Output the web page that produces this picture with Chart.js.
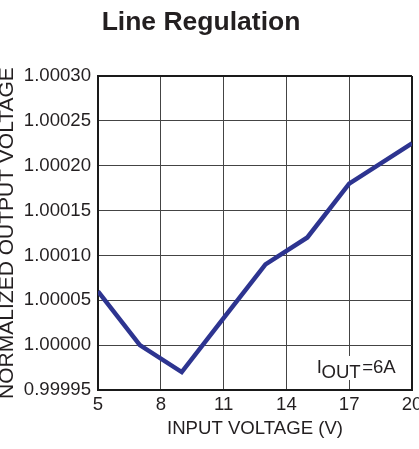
<!DOCTYPE html>
<html>
<head>
<meta charset="utf-8">
<script src="https://cdn.jsdelivr.net/npm/chart.js@4/dist/chart.umd.min.js"></script>
<style>
  html, body { margin: 0; padding: 0; background: #ffffff; }
  #c { display: block; }
</style>
</head>
<body>
<canvas id="c" width="419" height="449"></canvas>
<script>
// ---- data ----
const inputVoltage = [5, 7, 9, 11, 13, 15, 17, 20];
const normalizedOutput = [1.00006, 1.00000, 0.99997, 1.00003, 1.00009, 1.00012, 1.00018, 1.000225];
const xTickValues = [5, 8, 11, 14, 17, 20];
const yTickValues = [0.99995, 1.00000, 1.00005, 1.00010, 1.00015, 1.00020, 1.00025, 1.00030];
const chartTitle = 'Line Regulation';
const xAxisTitle = 'INPUT VOLTAGE (V)';
const yAxisTitle = 'NORMALIZED OUTPUT VOLTAGE';
const noteMain = 'I', noteSub = 'OUT', noteTail = '=6A';

const FONT = "'Liberation Sans', Arial, Helvetica, sans-serif";
const TEXT = '#231f20';
const FRAME = '#1a1a1a';
const GRID = '#444444';

const xMin = xTickValues[0], xMax = xTickValues[xTickValues.length - 1];
const yMin = yTickValues[0], yMax = yTickValues[yTickValues.length - 1];

const points = inputVoltage.map((x, i) => ({ x: x, y: normalizedOutput[i] }));

const annotations = {
  id: 'annotations',
  afterDraw(chart) {
    const ctx = chart.ctx;
    const xs = chart.scales.x, ys = chart.scales.y;
    ctx.save();
    // main title
    ctx.fillStyle = TEXT;
    ctx.font = 'bold 26.5px ' + FONT;
    ctx.textAlign = 'center';
    ctx.textBaseline = 'alphabetic';
    ctx.fillText(chartTitle, 201, 30);

    // condition note with subscript, anchored to data space
    const px = xs.getPixelForValue(15.45);
    const py = ys.getPixelForValue(0.999969);
    ctx.font = '18.6px ' + FONT;
    ctx.textAlign = 'left';
    const w1 = ctx.measureText(noteMain).width;
    const w2 = ctx.measureText(noteSub).width;
    const w3 = ctx.measureText(noteTail).width;
    ctx.fillStyle = '#ffffff';
    ctx.fillRect(px - 2, py - 17, w1 + w2 + w3 + 5, 24);
    ctx.fillStyle = TEXT;
    ctx.fillText(noteMain, px, py);
    ctx.fillText(noteSub, px + w1 - 0.5, py + 5);
    ctx.fillText(noteTail, px + w1 + w2 + 1, py);
    ctx.restore();
  }
};

const isEnd = (scaleMin, scaleMax) => (ctx) =>
  ctx.tick && (Math.abs(ctx.tick.value - scaleMax) < 1e-9 || Math.abs(ctx.tick.value - scaleMin) < 1e-9);

new Chart(document.getElementById('c'), {
  type: 'line',
  data: {
    datasets: [{
      data: points,
      borderColor: '#2d3490',
      borderWidth: 4.5,
      pointRadius: 0,
      fill: false,
      tension: 0,
      borderJoinStyle: 'miter'
    }]
  },
  options: {
    responsive: false,
    animation: false,
    devicePixelRatio: 1,
    layout: { padding: { top: 76, right: 7, bottom: 0, left: 0 } },
    plugins: {
      legend: { display: false },
      title: { display: false },
      tooltip: { enabled: false }
    },
    scales: {
      x: {
        type: 'linear',
        min: xMin,
        max: xMax,
        afterBuildTicks: (s) => { s.ticks = xTickValues.map(v => ({ value: v })); },
        afterFit: (s) => { s.height = 59; s.paddingLeft = 0; s.paddingRight = 0; },
        ticks: {
          color: TEXT,
          font: { family: FONT, size: 18.6 },
          padding: 4,
          maxRotation: 0,
          autoSkip: false,
          callback: (v) => String(v)
        },
        grid: {
          drawTicks: false,
          color: (c) => isEnd(xMin, xMax)(c) ? FRAME : GRID,
          lineWidth: (c) => isEnd(xMin, xMax)(c) ? 2 : 1
        },
        border: { display: true, color: FRAME, width: 2 },
        title: {
          display: true,
          text: xAxisTitle,
          color: TEXT,
          font: { family: FONT, size: 18.6, lineHeight: 1 },
          padding: { top: 0, bottom: 10.7 }
        }
      },
      y: {
        type: 'linear',
        min: yMin,
        max: yMax,
        afterBuildTicks: (s) => { s.ticks = yTickValues.map(v => ({ value: v })); },
        afterFit: (s) => { s.width = 98; s.paddingTop = 0; s.paddingBottom = 0; },
        ticks: {
          color: TEXT,
          font: { family: FONT, size: 18.6 },
          padding: 7,
          autoSkip: false,
          callback: (v) => Number(v).toFixed(5)
        },
        grid: {
          drawTicks: false,
          color: (c) => isEnd(yMin, yMax)(c) ? FRAME : GRID,
          lineWidth: (c) => isEnd(yMin, yMax)(c) ? 2 : 1
        },
        border: { display: true, color: FRAME, width: 2 },
        title: {
          display: true,
          text: yAxisTitle,
          color: TEXT,
          font: { family: FONT, size: 21, lineHeight: 1 },
          padding: { top: -3, bottom: 0 }
        }
      }
    }
  },
  plugins: [annotations]
});
</script>
</body>
</html>
